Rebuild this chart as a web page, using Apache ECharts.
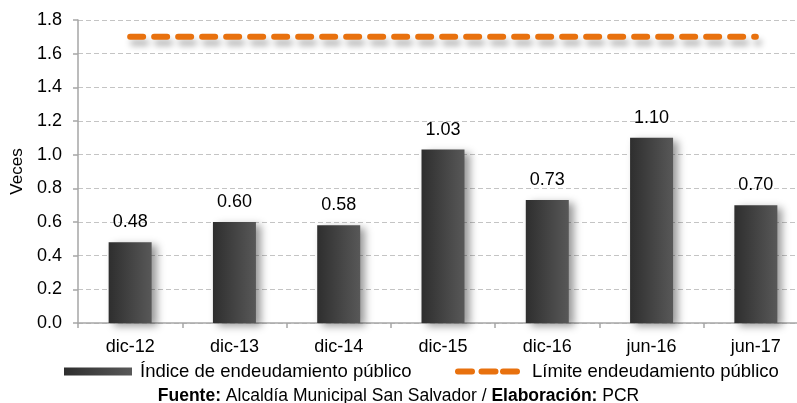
<!DOCTYPE html>
<html>
<head>
<meta charset="utf-8">
<script src="https://cdn.jsdelivr.net/npm/echarts@6/dist/echarts.min.js"></script>
<style>
  html, body { margin: 0; padding: 0; background: #fff; }
  #chart { width: 797px; height: 403px; }
</style>
</head>
<body>
<div id="chart"></div>
<script>
// Periods and debt ratios (veces)
const periods = ['dic-12', 'dic-13', 'dic-14', 'dic-15', 'dic-16', 'jun-16', 'jun-17'];
const debtIndex = [0.48, 0.60, 0.58, 1.03, 0.73, 1.10, 0.70];
const debtLimit = [1.7, 1.7, 1.7, 1.7, 1.7, 1.7, 1.7];
const yTicks = { min: 0, max: 1.8, step: 0.2 };

const indexName = 'Índice de endeudamiento público';
const limitName = 'Límite endeudamiento público';

const FONT = 'Liberation Sans, Arial, sans-serif';
const ORANGE = '#E8710E';

const barGradient = new echarts.graphic.LinearGradient(0, 0, 1, 0, [
  { offset: 0, color: '#2e2e2e' },
  { offset: 1, color: '#585858' }
]);

// three rounded dashes used as the legend icon of the limit line
const dashIcon = 'path://M3,0H17A3,3 0 0 1 17,6H3A3,3 0 0 1 3,0Z' +
  'M26.5,0H40.5A3,3 0 0 1 40.5,6H26.5A3,3 0 0 1 26.5,0Z' +
  'M48,0H62A3,3 0 0 1 62,6H48A3,3 0 0 1 48,0Z';

const chart = echarts.init(document.getElementById('chart'), null, { renderer: 'canvas' });

chart.setOption({
  animation: false,
  backgroundColor: '#ffffff',
  textStyle: { fontFamily: FONT },
  title: {
    text: '{b|Fuente:} Alcaldía Municipal San Salvador / {b|Elaboración:} PCR',
    left: 'center',
    top: 387,
    padding: 0,
    textStyle: {
      fontFamily: FONT, fontSize: 17.5, fontWeight: 'normal', color: '#000',
      rich: { b: { fontFamily: FONT, fontSize: 17.5, fontWeight: 'bold', color: '#000' } }
    }
  },
  legend: [
    {
      data: [{ name: indexName, icon: 'rect' }],
      left: 59, top: 357,
      itemWidth: 68, itemHeight: 8,
      itemStyle: { shadowColor: 'rgba(0,0,0,0)', shadowBlur: 0, borderWidth: 0 },
      textStyle: { fontFamily: FONT, fontSize: 18.5, color: '#000', padding: [0, 0, 0, 3] },
      selectedMode: false
    },
    {
      data: [{ name: limitName, icon: dashIcon }],
      left: 450, top: 357,
      itemWidth: 65, itemHeight: 6,
      itemStyle: { color: ORANGE, shadowColor: 'rgba(0,0,0,0)', shadowBlur: 0, borderWidth: 0 },
      textStyle: { fontFamily: FONT, fontSize: 18.5, color: '#000', padding: [0, 0, 0, 7] },
      selectedMode: false
    }
  ],
  grid: {
    left: 78, right: -11, top: 20, bottom: 80,
    containLabel: false,
    outerBoundsMode: 'none'
  },
  xAxis: {
    type: 'category',
    data: periods,
    axisLine: { lineStyle: { color: '#a6a6a6', width: 1.5 } },
    axisTick: { show: true, length: 5, inside: false, alignWithLabel: false, lineStyle: { color: '#a6a6a6', width: 1.5 } },
    axisLabel: { color: '#000', fontSize: 18, fontFamily: FONT, margin: 15 },
    splitLine: { show: false }
  },
  yAxis: {
    type: 'value',
    min: yTicks.min, max: yTicks.max, interval: yTicks.step,
    name: 'Veces',
    nameLocation: 'middle',
    nameGap: 52,
    nameRotate: 90,
    nameTextStyle: { color: '#000', fontSize: 17, fontFamily: FONT },
    axisLine: { show: true, lineStyle: { color: '#a6a6a6', width: 1.5 } },
    axisTick: { show: true, length: 5, lineStyle: { color: '#a6a6a6', width: 1.5 } },
    axisLabel: {
      color: '#000', fontSize: 18, fontFamily: FONT, margin: 16,
      formatter: v => v.toFixed(1)
    },
    splitLine: { show: true, lineStyle: { color: '#c4c4c4', type: [5, 3], width: 1 } }
  },
  series: [
    {
      name: indexName,
      type: 'bar',
      data: debtIndex,
      barWidth: 43,
      itemStyle: {
        color: barGradient,
        shadowColor: 'rgba(0,0,0,0.4)',
        shadowBlur: 8,
        shadowOffsetX: 5,
        shadowOffsetY: 3
      },
      label: {
        show: true, position: 'top', distance: 11,
        color: '#000', fontSize: 18, fontFamily: FONT,
        formatter: p => p.value.toFixed(2)
      },
      z: 2
    },
    {
      name: limitName,
      type: 'line',
      data: debtLimit,
      showSymbol: false,
      symbol: 'none',
      silent: true,
      itemStyle: { color: ORANGE },
      lineStyle: {
        color: ORANGE,
        width: 6,
        type: [13, 11],
        cap: 'round',
        shadowColor: 'rgba(0,0,0,0.3)',
        shadowBlur: 6,
        shadowOffsetX: 3,
        shadowOffsetY: 6
      },
      z: 3
    }
  ]
});
</script>
</body>
</html>
